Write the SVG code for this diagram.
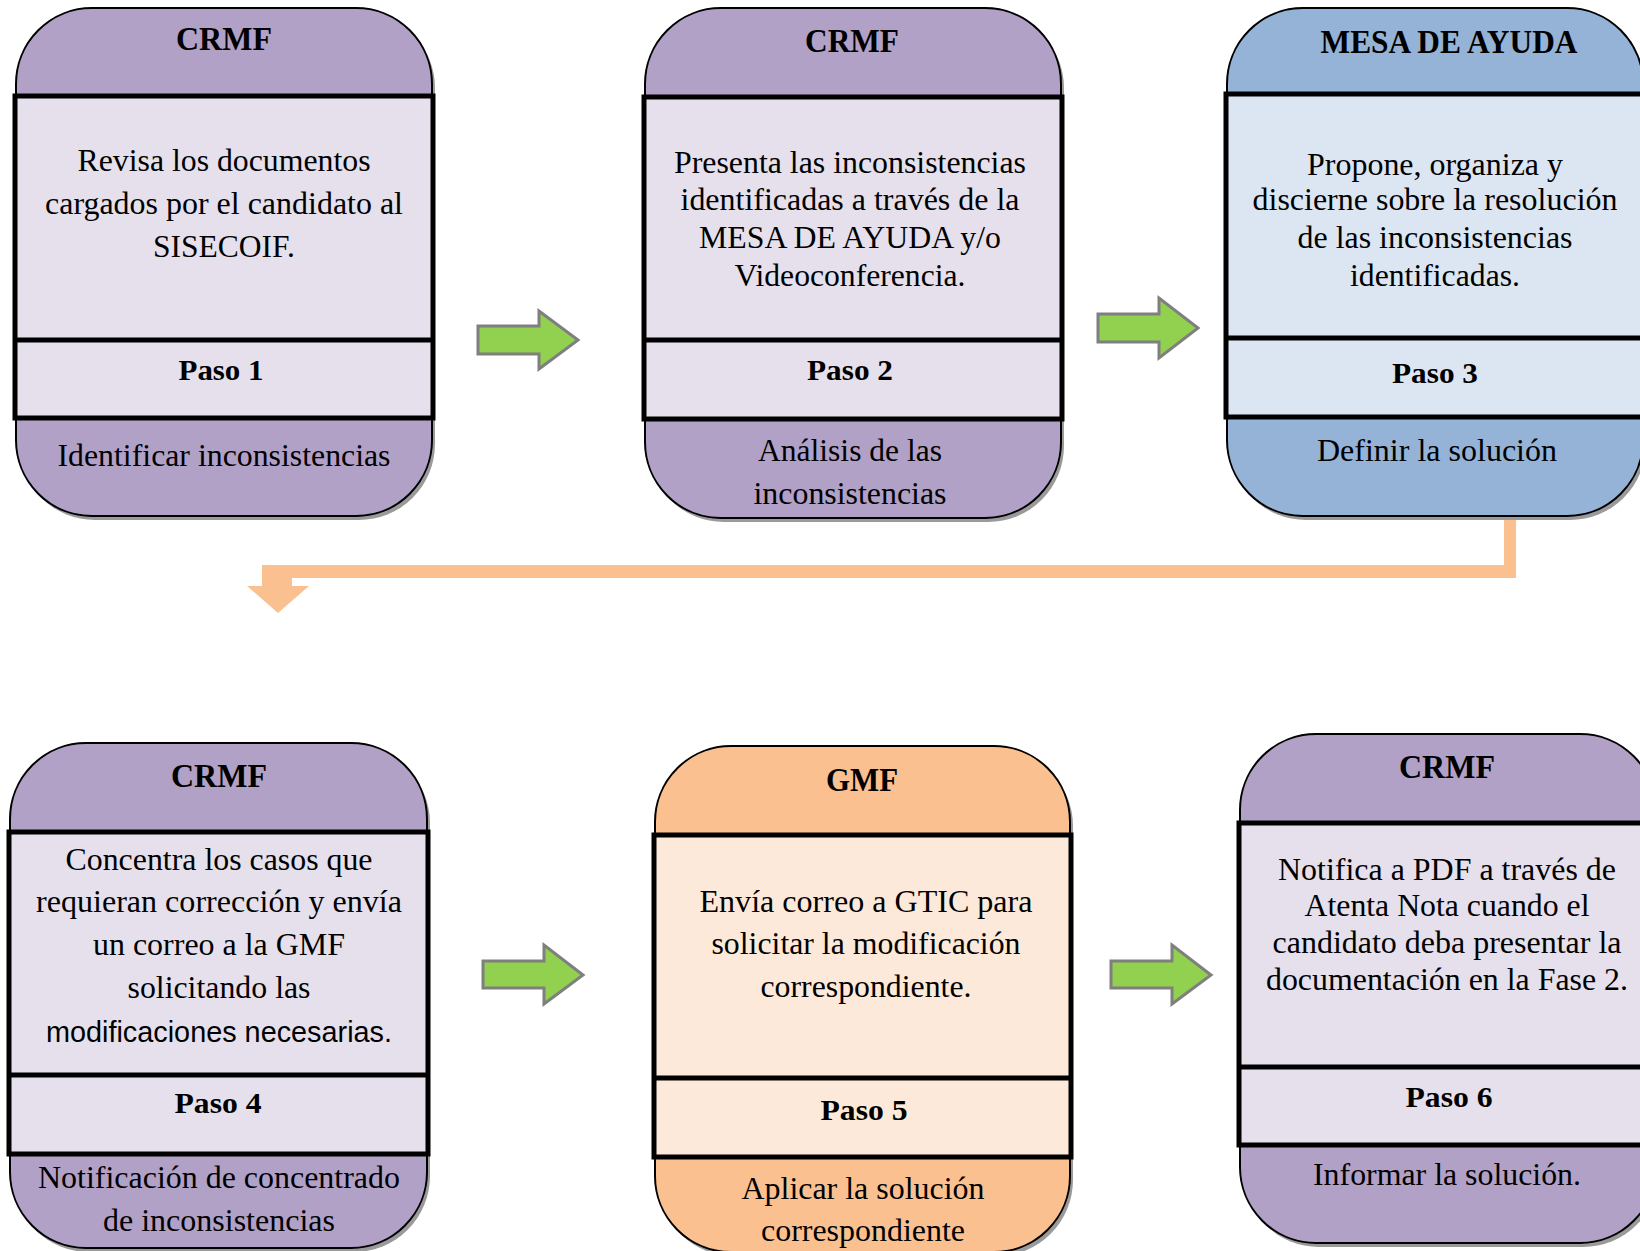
<svg xmlns="http://www.w3.org/2000/svg" width="1640" height="1251" viewBox="0 0 1640 1251">
<defs>
<style>
.shadow{fill:#9a9a9a}
.outer{stroke:#000;stroke-width:2}
.purple{fill:#B2A1C7}
.lav{fill:#E5E0EC}
.blue{fill:#95B3D7}
.lblue{fill:#DCE6F2}
.orange{fill:#FAC090}
.lorange{fill:#FDE9D9}
.mid{stroke:#000;stroke-width:5}
.div{stroke:#000;stroke-width:5}
text{font-family:"Liberation Serif","Times New Roman",serif;fill:#000;text-anchor:middle}
.h{font-size:34px;font-weight:bold}
.p{font-size:30px;font-weight:bold}
.t{font-size:31px}
.s{font-family:"Liberation Sans",Arial,sans-serif;font-size:29px}
.garrow{fill:#92D050;stroke:#7F7F7F;stroke-width:3}
</style>
</defs>

<g id="connectors">
<path id="a1" class="garrow" d="M478,326 L539,326 L539,311 L578,340 L539,369 L539,354 L478,354 Z"/>
<path id="a2" class="garrow" d="M1098,314 L1159,314 L1159,298 L1198,328 L1159,358 L1159,342 L1098,342 Z"/>
<path id="a3" class="garrow" d="M483,961 L544,961 L544,945 L583,975 L544,1004 L544,988 L483,988 Z"/>
<path id="a4" class="garrow" d="M1111,961 L1172,961 L1172,945 L1211,975 L1172,1004 L1172,988 L1111,988 Z"/>
<path id="c3to4" fill="#FAC090" d="M1504,514 L1516,514 L1516,578 L292,578 L292,586 L309,586 L278,613 L247,586 L262,586 L262,565 L1504,565 Z"/>
</g>

<g id="node1">
<rect class="shadow" x="19" y="12" width="416" height="508" rx="76"/>
<rect class="outer purple" x="16" y="8" width="416" height="508" rx="76"/>
<rect class="mid lav" x="15" y="96" width="418" height="322"/>
<line class="div" x1="15" y1="340" x2="433" y2="340"/>
<text class="h" x="224" y="50" textLength="96" lengthAdjust="spacingAndGlyphs">CRMF</text>
<text class="t" x="224" y="171" textLength="293" lengthAdjust="spacingAndGlyphs">Revisa los documentos</text>
<text class="t" x="224" y="214" textLength="358" lengthAdjust="spacingAndGlyphs">cargados por el candidato al</text>
<text class="t" x="224" y="257" textLength="142" lengthAdjust="spacingAndGlyphs">SISECOIF.</text>
<text class="p" x="221" y="380" textLength="85" lengthAdjust="spacingAndGlyphs">Paso 1</text>
<text class="t" x="224" y="466" textLength="333" lengthAdjust="spacingAndGlyphs">Identificar inconsistencias</text>
</g>

<g id="node2">
<rect class="shadow" x="648" y="12" width="416" height="510" rx="76"/>
<rect class="outer purple" x="645" y="8" width="416" height="510" rx="76"/>
<rect class="mid lav" x="644" y="97" width="418" height="322"/>
<line class="div" x1="644" y1="340" x2="1062" y2="340"/>
<text class="h" x="852" y="52" textLength="94" lengthAdjust="spacingAndGlyphs">CRMF</text>
<text class="t" x="850" y="173" textLength="352" lengthAdjust="spacingAndGlyphs">Presenta las inconsistencias</text>
<text class="t" x="850" y="210" textLength="339" lengthAdjust="spacingAndGlyphs">identificadas a través de la</text>
<text class="t" x="850" y="248" textLength="302" lengthAdjust="spacingAndGlyphs">MESA DE AYUDA y/o</text>
<text class="t" x="850" y="286" textLength="231" lengthAdjust="spacingAndGlyphs">Videoconferencia.</text>
<text class="p" x="850" y="380" textLength="86" lengthAdjust="spacingAndGlyphs">Paso 2</text>
<text class="t" x="850" y="461" textLength="184" lengthAdjust="spacingAndGlyphs">Análisis de las</text>
<text class="t" x="850" y="504" textLength="193" lengthAdjust="spacingAndGlyphs">inconsistencias</text>
</g>

<g id="node3">
<rect class="shadow" x="1230" y="12" width="416" height="508" rx="76"/>
<rect class="outer blue" x="1227" y="8" width="416" height="508" rx="76"/>
<rect class="mid lblue" x="1226" y="94" width="418" height="323"/>
<line class="div" x1="1226" y1="338" x2="1644" y2="338"/>
<text class="h" x="1449" y="53" textLength="257" lengthAdjust="spacingAndGlyphs">MESA DE AYUDA</text>
<text class="t" x="1435" y="175" textLength="256" lengthAdjust="spacingAndGlyphs">Propone, organiza y</text>
<text class="t" x="1435" y="210" textLength="365" lengthAdjust="spacingAndGlyphs">discierne sobre la resolución</text>
<text class="t" x="1435" y="248" textLength="275" lengthAdjust="spacingAndGlyphs">de las inconsistencias</text>
<text class="t" x="1435" y="286" textLength="170" lengthAdjust="spacingAndGlyphs">identificadas.</text>
<text class="p" x="1435" y="383" textLength="86" lengthAdjust="spacingAndGlyphs">Paso 3</text>
<text class="t" x="1437" y="461" textLength="240" lengthAdjust="spacingAndGlyphs">Definir la solución</text>
</g>

<g id="node4">
<rect class="shadow" x="13" y="747" width="417" height="505" rx="76"/>
<rect class="outer purple" x="10" y="743" width="417" height="505" rx="76"/>
<rect class="mid lav" x="9" y="832" width="419" height="322"/>
<line class="div" x1="9" y1="1075" x2="428" y2="1075"/>
<text class="h" x="219" y="787" textLength="96" lengthAdjust="spacingAndGlyphs">CRMF</text>
<text class="t" x="219" y="870" textLength="307" lengthAdjust="spacingAndGlyphs">Concentra los casos que</text>
<text class="t" x="219" y="912" textLength="366" lengthAdjust="spacingAndGlyphs">requieran corrección y envía</text>
<text class="t" x="219" y="955" textLength="252" lengthAdjust="spacingAndGlyphs">un correo a la GMF</text>
<text class="t" x="219" y="998" textLength="183" lengthAdjust="spacingAndGlyphs">solicitando las</text>
<text class="s" x="219" y="1042" textLength="346" lengthAdjust="spacingAndGlyphs">modificaciones necesarias.</text>
<text class="p" x="218" y="1113" textLength="87" lengthAdjust="spacingAndGlyphs">Paso 4</text>
<text class="t" x="219" y="1188" textLength="362" lengthAdjust="spacingAndGlyphs">Notificación de concentrado</text>
<text class="t" x="219" y="1231" textLength="232" lengthAdjust="spacingAndGlyphs">de inconsistencias</text>
</g>

<g id="node5">
<rect class="shadow" x="658" y="750" width="415" height="506" rx="76"/>
<rect class="outer orange" x="655" y="746" width="415" height="506" rx="76"/>
<rect class="mid lorange" x="654" y="835" width="417" height="322"/>
<line class="div" x1="654" y1="1078" x2="1071" y2="1078"/>
<text class="h" x="862" y="791" textLength="72" lengthAdjust="spacingAndGlyphs">GMF</text>
<text class="t" x="866" y="912" textLength="333" lengthAdjust="spacingAndGlyphs">Envía correo a GTIC para</text>
<text class="t" x="866" y="954" textLength="309" lengthAdjust="spacingAndGlyphs">solicitar la modificación</text>
<text class="t" x="866" y="997" textLength="211" lengthAdjust="spacingAndGlyphs">correspondiente.</text>
<text class="p" x="864" y="1120" textLength="87" lengthAdjust="spacingAndGlyphs">Paso 5</text>
<text class="t" x="863" y="1199" textLength="243" lengthAdjust="spacingAndGlyphs">Aplicar la solución</text>
<text class="t" x="863" y="1241" textLength="204" lengthAdjust="spacingAndGlyphs">correspondiente</text>
</g>

<g id="node6">
<rect class="shadow" x="1243" y="738" width="416" height="509" rx="76"/>
<rect class="outer purple" x="1240" y="734" width="416" height="509" rx="76"/>
<rect class="mid lav" x="1239" y="823" width="418" height="322"/>
<line class="div" x1="1239" y1="1067" x2="1657" y2="1067"/>
<text class="h" x="1447" y="778" textLength="96" lengthAdjust="spacingAndGlyphs">CRMF</text>
<text class="t" x="1447" y="880" textLength="338" lengthAdjust="spacingAndGlyphs">Notifica a PDF a través de</text>
<text class="t" x="1447" y="916" textLength="285" lengthAdjust="spacingAndGlyphs">Atenta Nota cuando el</text>
<text class="t" x="1447" y="953" textLength="349" lengthAdjust="spacingAndGlyphs">candidato deba presentar la</text>
<text class="t" x="1447" y="990" textLength="362" lengthAdjust="spacingAndGlyphs">documentación en la Fase 2.</text>
<text class="p" x="1449" y="1107" textLength="87" lengthAdjust="spacingAndGlyphs">Paso 6</text>
<text class="t" x="1447" y="1185" textLength="268" lengthAdjust="spacingAndGlyphs">Informar la solución.</text>
</g>
</svg>
